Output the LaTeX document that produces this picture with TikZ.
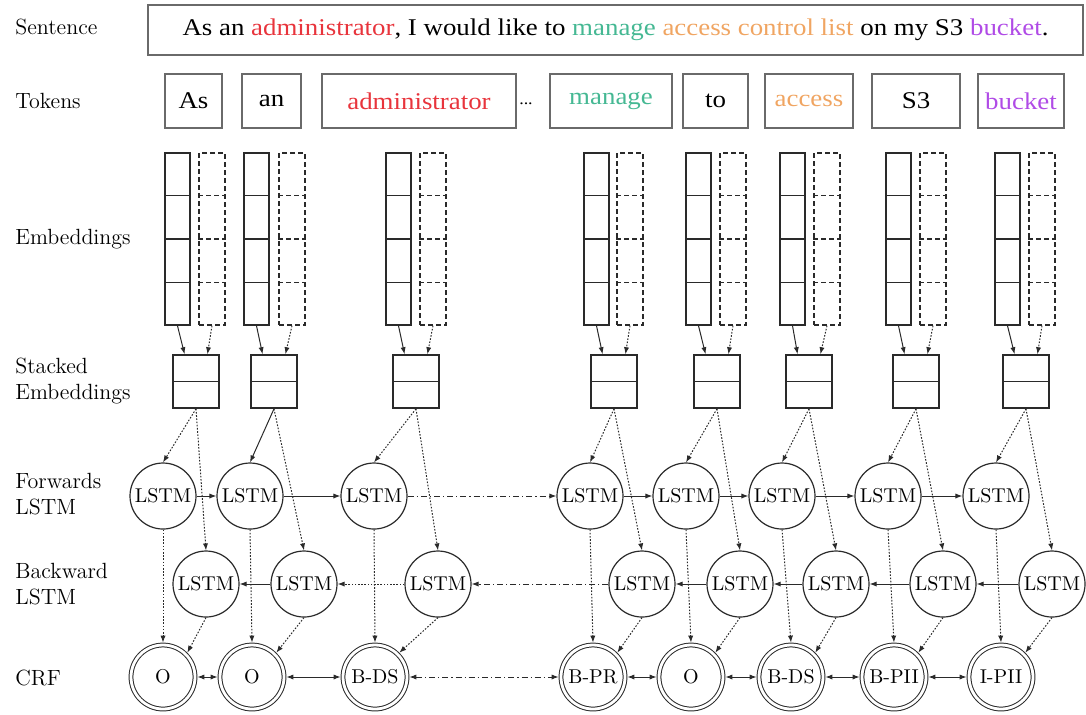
\documentclass[tikz,border=0pt]{standalone}
\usepackage{fontspec}
\usetikzlibrary{arrows.meta,calc}
\newfontfamily\tnr[FakeStretch=1.12]{Liberation Serif}
\definecolor{adm}{HTML}{E8343C}
\definecolor{mng}{HTML}{45B893}
\definecolor{acc}{HTML}{F0A562}
\definecolor{bkt}{HTML}{B04BE6}
\definecolor{boxgray}{HTML}{6A6A6A}
\definecolor{ink}{HTML}{2A2A2A}
\begin{document}
\begin{tikzpicture}[x=0.5pt,y=-0.5pt,
  lbl/.style={anchor=west,font=\fontsize{11}{12.6}\selectfont,align=left,inner sep=0},
  txtfont/.style={font=\tnr\fontsize{12}{14}\selectfont},
  sentbox/.style={draw=boxgray,line width=0.8pt,txtfont,inner sep=0,minimum width=467.5pt,minimum height=25pt},
  tokbox/.style={draw=boxgray,line width=0.7pt,txtfont,inner sep=0,minimum height=27pt},
  emb/.style={draw=ink,line width=0.8pt,minimum width=12.5pt,minimum height=86pt,inner sep=0},
  embd/.style={draw=ink,line width=0.7pt,dash pattern=on 2.5pt off 1.5pt,minimum width=13pt,minimum height=86pt,inner sep=0},
  stk/.style={draw=ink,line width=0.8pt,minimum width=23pt,minimum height=26.5pt,inner sep=0},
  lstm/.style={circle,draw=ink,line width=0.6pt,minimum size=33pt,inner sep=0,font=\fontsize{10}{12}\selectfont},
  crf/.style={circle,draw=ink,double,double distance=1.4pt,line width=0.5pt,minimum size=32pt,inner sep=0,outer sep=1.2pt,font=\fontsize{10}{12}\selectfont},
  tip/.style={-{Latex[length=3.5pt,width=2.6pt]}},
  solidarr/.style={tip,draw=ink,line width=0.5pt},
  dotarr/.style={tip,draw=ink,line width=0.5pt,dash pattern=on 0.8pt off 0.8pt},
  dashdot/.style={draw=ink,line width=0.5pt,dash pattern=on 3pt off 1.5pt on 0.6pt off 1.5pt},
  bothsolid/.style={{Latex[length=3.5pt,width=2.6pt]}-{Latex[length=3.5pt,width=2.6pt]},draw=ink,line width=0.5pt}
]
\useasboundingbox (0,0) rectangle (1086,714);

% row labels
\node[lbl] (lsent) at (15,27) {Sentence};
\node[lbl] (ltok)  at (15,101) {Tokens};
\node[lbl] (lemb)  at (15,239) {Embeddings};
\node[lbl] (lstk)  at (15,381) {Stacked\\Embeddings};
\node[lbl] (lfwd)  at (15,494) {Forwards\\LSTM};
\node[lbl] (lbwd)  at (15,584) {Backward\\LSTM};
\node[lbl] (lcrf)  at (15,678) {CRF};

% sentence
\node[sentbox] (sent) at (615.5,30) {As an \textcolor{adm}{administrator}, I would like to \textcolor{mng}{manage} \textcolor{acc}{access control list} on my S3 \textcolor{bkt}{bucket}.};

% tokens
\node[tokbox,minimum width=28.5pt] (t1) at (193.5,101) {As};
\node[tokbox,minimum width=29.5pt] (t2) at (271.5,101) {an};
\node[tokbox,minimum width=97pt]   (t3) at (419,101) {\textcolor{adm}{administrator}};
\node[txtfont,font=\tnr\fontsize{8}{8}\selectfont] (dots) at (526,104) {...};
\node[tokbox,minimum width=61pt]   (t4) at (611,101) {\textcolor{mng}{manage}};
\node[tokbox,minimum width=32.5pt] (t5) at (715.5,101) {to};
\node[tokbox,minimum width=44pt]   (t6) at (809,101) {\textcolor{acc}{access}};
\node[tokbox,minimum width=44pt]   (t7) at (916,101) {S3};
\node[tokbox,minimum width=43pt]   (t8) at (1021,101) {\textcolor{bkt}{bucket}};

% one column per token: embeddings, stacked embedding, forward/backward LSTM, CRF
\foreach \i/\el/\dl/\sl/\fx/\bx/\cx/\lab in {
  1/165/199/173/163/206/163/O,
  2/244/279/251/250/304/252/O,
  3/386/420/393/374/438/375/B-DS,
  4/584/617/591/590/642/593/B-PR,
  5/686/720/694/686/740/691/O,
  6/780/814/786/782/836/791/B-DS,
  7/886/920/893/888/943/894/B-PII,
  8/995/1029/1003/996/1052/1001/I-PII}{
  \node[emb]  (e\i) at (\el+12.5,239) {};
  \node[embd] (d\i) at (\dl+13,239) {};
  \foreach \f in {0.25,0.5,0.75}{
    \draw[draw=ink,line width=0.7pt] ($(e\i.north west)!\f!(e\i.south west)$) -- ($(e\i.north east)!\f!(e\i.south east)$);
    \draw[draw=ink,line width=0.7pt,dash pattern=on 2.5pt off 1.5pt] ($(d\i.north west)!\f!(d\i.south west)$) -- ($(d\i.north east)!\f!(d\i.south east)$);
  }
  \node[stk] (s\i) at (\sl+23,381.5) {};
  \draw[draw=ink,line width=0.8pt] (s\i.west) -- (s\i.east);
  \draw[solidarr] (e\i.south) -- ($(s\i.north west)!0.26!(s\i.north east)$);
  \draw[dotarr] (d\i.south) -- ($(s\i.north west)!0.74!(s\i.north east)$);
  \node[lstm] (f\i) at (\fx,496) {LSTM};
  \node[lstm] (b\i) at (\bx,584) {LSTM};
  \node[crf]  (c\i) at (\cx,677) {\lab};
  \draw[dotarr] (s\i.south) -- (b\i.north);
  \draw[dotarr] (f\i.south) -- (c\i.north);
  \draw[dotarr] (b\i.south) -- (c\i.north east);
}

% stacked embeddings into the forward LSTM
\foreach \i in {1,3,4,5,6,7,8}{ \draw[dotarr] (s\i.south) -- (f\i.north); }
\draw[solidarr] (s2.south) -- (f2.north);

% forward chain
\foreach \i/\j in {1/2,2/3,4/5,5/6,6/7,7/8}{ \draw[solidarr] (f\i.east) -- (f\j.west); }
\draw[dashdot,tip] (f3.east) -- (f4.west);

% backward chain
\foreach \i/\j in {1/2,4/5,5/6,6/7,7/8}{ \draw[solidarr] (b\j.west) -- (b\i.east); }
\draw[dotarr] (b3.west) -- (b2.east);
\draw[dashdot,tip] (b4.west) -- (b3.east);

% CRF transitions
\foreach \i/\j in {1/2,2/3,4/5,5/6,6/7,7/8}{ \draw[bothsolid] (c\i.east) -- (c\j.west); }
\draw[dashdot,{Latex[length=3.5pt,width=2.6pt]}-{Latex[length=3.5pt,width=2.6pt]}] (c3.east) -- (c4.west);
\end{tikzpicture}
\end{document}
